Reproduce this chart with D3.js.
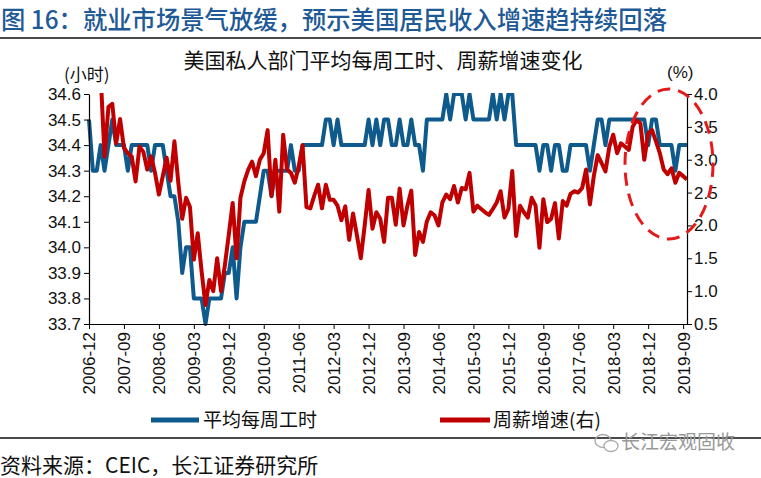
<!DOCTYPE html>
<html><head><meta charset="utf-8">
<script src="https://cdn.jsdelivr.net/npm/d3@7/dist/d3.min.js"></script>
<style>
body{margin:0;background:#fff;}
svg text{font-family:"Liberation Sans","Noto Sans CJK SC",sans-serif;}
</style></head>
<body><svg id="c" width="761" height="478"></svg>
<script>
// ---- data ----
const startMonth = "2006-12";
const monthCount = 155; // 2006-12 .. 2019-10
const tickLabels = ["2006-12","2007-09","2008-06","2009-03","2009-12","2010-09","2011-06","2012-03","2012-12","2013-09","2014-06","2015-03","2015-12","2016-09","2017-06","2018-03","2018-12","2019-09"];
const hoursLeftTicks = [33.7,33.8,33.9,34.0,34.1,34.2,34.3,34.4,34.5,34.6];
const wageRightTicks = [0.5,1.0,1.5,2.0,2.5,3.0,3.5,4.0];
// 平均每周工时 (小时)
const weeklyHours = [
34.5,34.3,34.3,34.4,34.3,34.4,34.5,34.4,34.4,34.4,
34.3,34.4,34.4,34.4,34.4,34.4,34.3,34.4,34.4,34.4,
34.3,34.2,34.2,34.1,33.9,34.0,34.0,33.8,33.8,33.8,
33.7,33.8,33.8,33.8,33.8,33.9,33.9,34.0,33.8,34.0,
34.1,34.1,34.1,34.1,34.2,34.3,34.3,34.2,34.3,34.3,
34.3,34.3,34.4,34.3,34.3,34.4,34.4,34.4,34.4,34.4,
34.4,34.5,34.5,34.4,34.5,34.4,34.4,34.4,34.4,34.4,
34.4,34.4,34.5,34.4,34.5,34.4,34.5,34.5,34.4,34.4,
34.5,34.4,34.4,34.5,34.4,34.4,34.3,34.5,34.5,34.5,
34.5,34.5,34.6,34.5,34.6,34.6,34.6,34.5,34.6,34.5,
34.5,34.5,34.5,34.5,34.6,34.5,34.6,34.5,34.6,34.6,
34.4,34.4,34.4,34.4,34.4,34.4,34.3,34.4,34.4,34.3,
34.4,34.4,34.3,34.3,34.4,34.4,34.4,34.4,34.4,34.3,
34.4,34.5,34.5,34.4,34.5,34.5,34.5,34.5,34.5,34.5,
34.5,34.5,34.5,34.5,34.4,34.5,34.5,34.4,34.4,34.4,
34.4,34.3,34.4,34.4,34.4
];
// 周薪增速(右) (%)
const weeklyEarningsYoY = [
null,null,null,4.3,3.05,3.8,3.85,3.25,3.62,3.18,
3.1,3.05,2.67,3.2,3.12,2.85,3.05,2.8,2.47,2.75,
3.03,2.68,3.28,2.65,2.1,2.42,2.28,1.48,1.88,1.3,
0.79,1.17,1.0,1.5,1.0,1.4,1.86,2.34,1.5,2.42,
2.67,2.85,2.97,2.75,3.0,3.1,3.45,2.45,3.0,2.21,
3.38,2.85,2.8,2.65,2.9,3.22,2.28,2.26,2.45,2.62,
2.26,2.62,2.39,2.39,2.3,2.08,2.29,1.78,2.18,1.85,
1.5,2.0,2.54,1.95,2.2,2.1,1.75,2.42,2.42,2.01,
2.56,2.0,2.3,2.53,1.55,1.9,1.75,2.06,2.2,2.15,
2.0,2.35,2.47,2.4,2.6,2.35,2.57,2.55,2.8,2.21,
2.3,2.25,2.2,2.16,2.25,2.35,2.52,2.12,2.25,2.83,
1.84,2.3,2.2,2.12,2.42,2.3,1.66,2.4,2.05,2.1,
2.34,1.8,2.37,2.3,2.48,2.52,2.5,2.57,2.85,2.32,
2.75,3.07,2.95,2.82,3.2,3.38,3.1,3.25,3.2,3.15,
3.5,3.6,3.55,3.0,3.4,3.45,3.28,3.1,2.85,2.78,
2.87,2.65,2.8,2.75,2.7
];

// ---- build categories ----
const fmt = d3.timeFormat("%Y-%m");
const start = d3.timeParse("%Y-%m")(startMonth);
const months = d3.range(monthCount).map(i => fmt(d3.timeMonth.offset(start, i)));

const svg = d3.select("#c");
const L = 89, R = 687, T = 94, B = 324;
const x = d3.scalePoint().domain(months).range([L, R]);
const yL = d3.scaleLinear().domain([33.7, 34.6]).range([B, T]);
const yR = d3.scaleLinear().domain([0.5, 4.0]).range([B, T]);
const cjk = "'Noto Sans CJK SC',sans-serif";

// title
svg.append("text").attr("x", 1).attr("y", 29).attr("fill", "#1f5a96")
  .style("font-size", "25px").style("font-family", cjk).style("font-weight", "500")
  .attr("textLength", 666).attr("lengthAdjust", "spacingAndGlyphs")
  .text("图 16：就业市场景气放缓，预示美国居民收入增速趋持续回落");
svg.append("line").attr("x1", 0).attr("x2", 761).attr("y1", 38).attr("y2", 38).attr("stroke", "#111").attr("stroke-width", 1.5);

svg.append("text").attr("x", (L + R) / 2 - 5).attr("y", 68).attr("text-anchor", "middle").attr("fill", "#111")
  .style("font-size", "21px").style("font-family", cjk)
  .text("美国私人部门平均每周工时、周薪增速变化");
svg.append("text").attr("x", 64).attr("y", 81).attr("fill", "#111").style("font-size", "17px")
  .style("font-family", cjk).text("(小时)");
svg.append("text").attr("x", 667).attr("y", 78).attr("fill", "#111").style("font-size", "17px").text("(%)");

// clip
svg.append("clipPath").attr("id", "pc").append("rect").attr("x", L - 5).attr("y", T - 1).attr("width", R - L + 10).attr("height", B - T + 8);

// lines
const lineL = d3.line().defined(d => d[1] != null).x(d => x(d[0])).y(d => yL(d[1]));
const lineR = d3.line().defined(d => d[1] != null).x(d => x(d[0])).y(d => yR(d[1]));
const g = svg.append("g").attr("clip-path", "url(#pc)");
g.append("path").datum(months.map((m, i) => [m, weeklyHours[i]])).attr("d", lineL)
  .attr("fill", "none").attr("stroke", "#0f5a8c").attr("stroke-width", 4).attr("stroke-linejoin", "round");
g.append("path").datum(months.map((m, i) => [m, weeklyEarningsYoY[i]])).attr("d", lineR)
  .attr("fill", "none").attr("stroke", "#c00000").attr("stroke-width", 4).attr("stroke-linejoin", "round");

// axes
const axL = svg.append("g").attr("transform", `translate(${L},0)`)
  .call(d3.axisLeft(yL).tickValues(hoursLeftTicks).tickFormat(d3.format(".1f")).tickSize(5).tickSizeOuter(0));
const axR = svg.append("g").attr("transform", `translate(${R},0)`)
  .call(d3.axisRight(yR).tickValues(wageRightTicks).tickFormat(d3.format(".1f")).tickSize(5).tickSizeOuter(0));
const axX = svg.append("g").attr("transform", `translate(0,${B})`)
  .call(d3.axisBottom(x).tickValues(tickLabels).tickSize(5).tickSizeOuter(0));
[axL, axR, axX].forEach(a => {
  a.selectAll("path.domain").attr("stroke", "#000").attr("stroke-width", 1.2);
  a.selectAll(".tick line").attr("stroke", "#000");
  a.selectAll("text").attr("fill", "#111").style("font-size", "17px").style("font-family", "'Liberation Sans',Arial,sans-serif");
});
axL.selectAll("text").attr("x", -8);
axR.selectAll("text").attr("x", 7);
axX.selectAll(".tick text").attr("transform", "rotate(-90)").attr("text-anchor", "end")
  .attr("x", -8).attr("y", 0).attr("dy", "0.35em");

// dashed ellipse
svg.append("ellipse").attr("cx", 669).attr("cy", 164).attr("rx", 44).attr("ry", 75)
  .attr("fill", "none").attr("stroke", "#e41a1a").attr("stroke-width", 3).attr("stroke-dasharray", "13,8");

// legend
const lg = svg.append("g");
lg.append("line").attr("x1", 151).attr("x2", 199).attr("y1", 420).attr("y2", 420).attr("stroke", "#0f5a8c").attr("stroke-width", 5);
lg.append("text").attr("x", 203).attr("y", 427).style("font-size", "19px").style("font-family", cjk).attr("fill", "#111").text("平均每周工时");
lg.append("line").attr("x1", 440).attr("x2", 490).attr("y1", 420).attr("y2", 420).attr("stroke", "#c00000").attr("stroke-width", 5);
lg.append("text").attr("x", 493).attr("y", 427).style("font-size", "19px").style("font-family", cjk).attr("fill", "#111").text("周薪增速(右)");

svg.append("line").attr("x1", 0).attr("x2", 761).attr("y1", 438).attr("y2", 438).attr("stroke", "#111").attr("stroke-width", 1.5);

// watermark
const wm = svg.append("g").attr("fill", "none").attr("stroke", "#aaa").attr("stroke-width", 1.3);
wm.append("ellipse").attr("cx", 603).attr("cy", 441).attr("rx", 8).attr("ry", 6.5);
wm.append("ellipse").attr("cx", 611).attr("cy", 446).attr("rx", 7).attr("ry", 5.5).attr("fill", "#fff");
svg.append("text").attr("x", 621).attr("y", 449).attr("fill", "#999").style("font-size", "19px")
  .style("font-family", cjk).text("长江宏观固收");

svg.append("text").attr("x", 0).attr("y", 473).attr("fill", "#111").style("font-size", "21px")
  .style("font-family", cjk).text("资料来源：CEIC，长江证券研究所");
</script></body></html>
